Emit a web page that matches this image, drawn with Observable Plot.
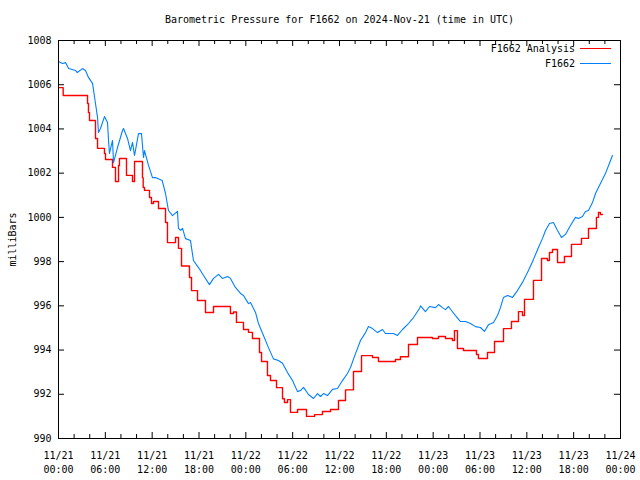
<!DOCTYPE html>
<html><head><meta charset="utf-8">
<script src="https://cdn.jsdelivr.net/npm/d3@7"></script>
<script src="https://cdn.jsdelivr.net/npm/@observablehq/plot@0.6"></script>
<style>
body{margin:0;background:#fff;}
#wrap{position:relative;width:640px;height:480px;font-family:"DejaVu Sans Mono",monospace;font-size:10px;}
#legend{position:absolute;top:41px;right:29px;}
.row{display:flex;align-items:center;justify-content:flex-end;height:15px;}
.row span.sw{display:inline-block;width:31px;margin-left:5px;}
</style></head><body><div id="wrap"></div>
<script>
const title = "Barometric Pressure for F1662 on 2024-Nov-21 (time in UTC)";
const yLabel = "milliBars";
const seriesNames = ["F1662 Analysis", "F1662"];
const seriesColors = ["#ff0000", "#0080ff"];

const xMajorTicks = [0,6,12,18,24,30,36,42,48,54,60,66,72];
const xMinorTicks = [2,4,8,10,14,16,20,22,26,28,32,34,38,40,44,46,50,52,56,58,62,64,68,70];
const xTickLabels = ["11/21\n00:00","11/21\n06:00","11/21\n12:00","11/21\n18:00","11/22\n00:00","11/22\n06:00","11/22\n12:00","11/22\n18:00","11/23\n00:00","11/23\n06:00","11/23\n12:00","11/23\n18:00","11/24\n00:00"];
const yTicks = [990,992,994,996,998,1000,1002,1004,1006,1008];

// F1662 (observed), hours since 2024-11-21 00:00 UTC
const obsHours = [0,0.5,0.9,1.3,2.2,2.4,3.07,3.46,3.84,4.36,4.74,5.0,5.12,5.38,5.89,6.28,6.41,6.53,6.92,7.05,7.56,8.2,8.33,8.84,9.22,9.48,9.74,10.25,10.63,10.89,11.02,11.53,12.04,12.43,13.28,13.71,14.09,14.6,15.24,15.37,15.63,15.89,16.27,16.91,17.29,17.94,18.58,19.34,19.86,20.5,21.01,21.65,22.03,22.67,23.32,23.7,24.34,24.6,25.24,25.62,26.26,26.9,27.54,28.18,28.7,29.34,29.98,30.62,31.0,31.39,32.03,32.67,33.18,33.56,33.95,34.46,35.1,35.74,36.38,37.02,37.41,38.05,38.69,39.33,39.71,40.23,40.87,41.51,41.89,42.92,43.43,44.07,44.84,45.48,46.25,46.38,47.01,47.53,48.3,48.68,49.19,49.58,49.96,50.35,50.86,51.5,52.14,52.78,53.42,54.06,54.57,55.09,55.73,56.24,56.62,57.01,57.52,58.16,58.8,59.44,60.21,60.85,61.49,62.01,62.39,62.9,63.41,63.93,64.44,64.95,65.59,66.23,66.62,67.13,67.51,67.9,68.41,68.8,69.43,70.07,70.72,70.97];
const obsValues = [1007.05,1006.96,1007.0,1006.73,1006.64,1006.55,1006.73,1006.64,1006.33,1006.06,1005.15,1004.52,1003.84,1004.02,1004.56,1004.29,1003.48,1002.89,1003.48,1002.48,1003.16,1003.93,1004.02,1003.57,1003.02,1003.39,1002.8,1003.79,1003.79,1002.71,1003.02,1002.35,1001.8,1001.8,1001.67,1001.08,1000.31,1000.08,1000.27,999.5,999.41,999.5,999.04,998.95,998.05,997.73,997.37,996.96,997.24,997.42,997.24,997.33,997.24,996.83,996.56,996.47,996.1,996.15,995.7,995.2,994.66,994.11,993.6,993.53,993.4,992.98,992.62,992.12,992.17,992.31,991.99,991.81,992.03,991.9,992.03,991.94,992.22,992.26,992.62,992.94,993.21,993.84,994.43,994.79,995.06,994.97,994.79,994.93,994.75,994.75,994.66,994.93,995.2,995.47,995.88,996.0,995.74,995.97,995.92,996.06,995.92,995.83,995.97,995.79,995.56,995.29,995.29,995.2,995.06,995.02,994.84,995.15,995.25,995.56,995.92,996.38,996.47,996.38,996.69,997.06,997.6,998.1,998.64,999.05,999.41,999.72,999.77,999.41,999.09,999.23,999.63,1000.0,999.95,1000.04,1000.27,1000.31,1000.67,1001.08,1001.53,1001.98,1002.57,1002.8];

// F1662 Analysis (stepped)
const anaHours = [0,0.6,3.72,3.84,3.97,4.74,5.0,5.89,6.02,6.92,7.3,7.69,7.81,8.71,9.48,9.74,10.76,10.85,11.02,11.66,11.91,12.17,12.81,13.71,13.96,14.99,15.37,15.76,16.78,17.04,17.81,18.83,19.86,22.03,22.42,22.8,23.7,24.34,24.85,25.75,26.01,26.77,27.16,27.93,28.7,28.95,29.34,29.72,30.62,31.77,32.8,33.82,34.85,35.87,36.77,37.79,38.82,40.23,40.99,43.17,43.81,44.84,45.99,47.91,48.68,49.58,50.47,50.73,51.11,51.88,53.55,53.8,54.96,55.86,57.01,58.03,58.93,59.44,59.7,60.85,61.88,62.64,62.9,63.29,63.93,64.82,65.72,67.0,67.9,68.92,69.18,69.43,69.69];
const anaValues = [1005.87,1005.51,1005.15,1004.74,1004.38,1003.57,1003.12,1002.89,1002.62,1002.26,1001.62,1002.35,1002.66,1001.9,1001.62,1002.53,1001.8,1001.35,1001.22,1000.9,1000.63,1000.72,1000.4,999.77,998.86,999.09,998.6,997.8,997.28,996.69,996.24,995.7,995.97,995.65,995.72,995.25,994.93,994.8,994.52,993.89,993.48,992.85,992.62,992.3,991.8,991.63,991.76,991.18,991.31,991.0,991.08,991.22,991.31,991.72,992.2,993.03,993.75,993.66,993.48,993.57,993.7,994.25,994.57,994.52,994.61,994.52,994.43,994.88,994.07,993.98,993.8,993.62,993.89,994.39,994.97,995.29,995.74,995.56,996.29,997.15,998.14,998.05,998.41,998.55,997.96,998.23,998.78,999.05,999.5,1000.0,1000.22,1000.13,1000.13];

const obs = obsHours.map((h,i)=>({h, v: obsValues[i]}));
const ana = anaHours.map((h,i)=>({h, v: anaValues[i]}));

const W = 640, H = 480, mL = 58, mR = 20, mT = 40, mB = 42;
const fw = W - mL - mR, fh = H - mT - mB;
const font = "DejaVu Sans Mono";

const chart = Plot.plot({
  width: W, height: H,
  marginLeft: mL, marginRight: mR, marginTop: mT, marginBottom: mB,
  style: {fontFamily: font, fontSize: "10px", background: "#fff", color: "#000"},
  x: {domain: [0, 72]},
  y: {domain: [990, 1008]},
  marks: [
    Plot.axisX({anchor: "bottom", ticks: xMajorTicks, tickSize: 0, tickPadding: 11, lineHeight: 1.4,
      tickFormat: (d) => xTickLabels[xMajorTicks.indexOf(d)], label: null, fontSize: 10}),
    Plot.axisY({anchor: "left", ticks: yTicks, tickSize: 0, tickPadding: 7, tickFormat: d => String(d),
      label: yLabel, labelAnchor: "center", labelArrow: "none", labelOffset: 50, fontSize: 10}),
    // inward ticks on all four sides
    Plot.tickX(xMajorTicks, {x: d => d, insetTop: fh - 6, stroke: "#000"}),
    Plot.tickX(xMajorTicks, {x: d => d, insetBottom: fh - 6, stroke: "#000"}),
    Plot.tickX(xMinorTicks, {x: d => d, insetTop: fh - 4, stroke: "#000"}),
    Plot.tickX(xMinorTicks, {x: d => d, insetBottom: fh - 4, stroke: "#000"}),
    Plot.tickY(yTicks, {y: d => d, insetRight: fw - 6, stroke: "#000"}),
    Plot.tickY(yTicks, {y: d => d, insetLeft: fw - 6, stroke: "#000"}),
    Plot.lineY(ana, {x: "h", y: "v", stroke: seriesColors[0], strokeWidth: 1.4, curve: "step-after"}),
    Plot.lineY(obs, {x: "h", y: "v", stroke: seriesColors[1], strokeWidth: 1.1}),
    Plot.frame({stroke: "#000"}),
    Plot.text([title], {frameAnchor: "top", dy: -21, lineAnchor: "middle", fontSize: 10, fill: "#000"})
  ]
});

const wrap = document.getElementById("wrap");
wrap.appendChild(chart);
const legend = document.createElement("div");
legend.id = "legend";
seriesNames.forEach((name, i) => {
  const row = document.createElement("div");
  row.className = "row";
  const t = document.createElement("span");
  t.textContent = name;
  const sw = document.createElement("span");
  sw.className = "sw";
  sw.style.borderTop = "1px solid " + seriesColors[i];
  row.appendChild(t); row.appendChild(sw);
  legend.appendChild(row);
});
wrap.appendChild(legend);
</script>
</body></html>
